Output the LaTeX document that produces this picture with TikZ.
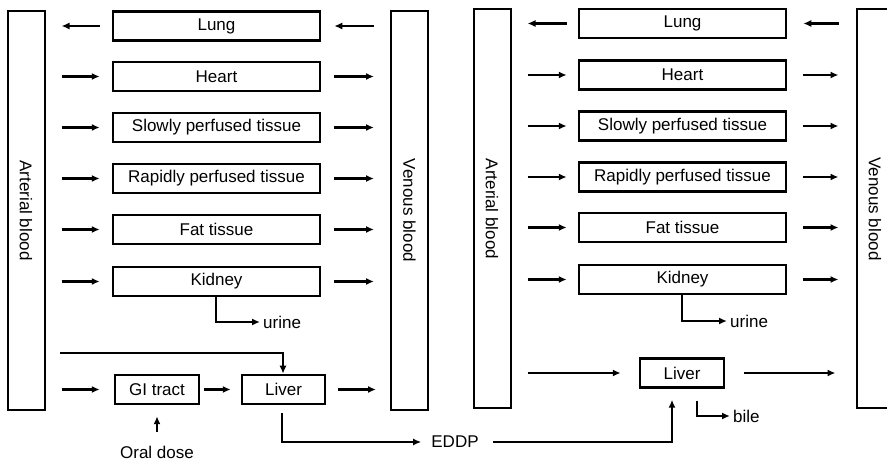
\documentclass[tikz,border=0pt]{standalone}
\usepackage{fontspec}
\setmainfont{Liberation Sans}
\usepackage{graphicx}
\usetikzlibrary{arrows.meta}
\begin{document}
\begin{tikzpicture}[x=1pt,y=-1pt,
  txt/.style={font=\fontsize{17}{20}\selectfont},
  organ/.style={draw, line width=2.5pt, minimum width=207pt, minimum height=29pt, inner sep=0pt, txt},
  blood/.style={draw, line width=2pt, minimum width=37pt, minimum height=399pt, inner sep=0pt, txt},
  lbl/.style={inner sep=0pt, txt},
  flow/.style={line width=2.4pt, -{Latex[length=8pt,width=7pt]}},
  lin/.style={shorten <=16pt, shorten >=12pt},
  rin/.style={shorten <=13pt, shorten >=16pt}]
\useasboundingbox[fill=white] (0,0) rectangle (887,462);
% ---------------- left panel ----------------
\node[blood] (art1) at (26,210.5) {\rotatebox{-90}{Arterial blood}};
\node[blood] (ven1) at (409.5,210.5) {\rotatebox{-90}{Venous blood}};
\node[organ] (lung1) at (216.5,26) {Lung};
\node[organ] (heart1) at (216.5,76.5) {Heart};
\node[organ] (slow1) at (216.5,127.5) {Slowly perfused tissue};
\node[organ] (rapid1) at (216.5,178.5) {Rapidly perfused tissue};
\node[organ] (fat1) at (216.5,229.5) {Fat tissue};
\node[organ] (kid1) at (216.5,281.5) {Kidney};
\node[organ, minimum width=84pt] (gi1) at (157,389.5) {GI tract};
\node[organ, minimum width=83pt] (liv1) at (283.5,389.5) {Liver};
\node[lbl, anchor=west] (urine1) at (263,322) {urine};
\node[lbl] (oral) at (157,452.5) {Oral dose};
\node[lbl] (eddp) at (455,442) {EDDP};
\coordinate (byp1) at (60,353);

\draw[flow, shorten <=12pt, shorten >=16pt] (lung1.west) -- (art1.east |- lung1.west);
\draw[flow, shorten <=16pt, shorten >=13pt] (ven1.west |- lung1.east) -- (lung1.east);
\foreach \o in {heart1,slow1,rapid1,fat1,kid1}{
  \draw[flow, lin] (art1.east |- \o.west) -- (\o.west);
  \draw[flow, rin] (\o.east) -- (ven1.west |- \o.east);
}
\draw[flow, shorten >=3pt] ([xshift=-0.5pt]kid1.south) |- (urine1.west);
\draw[flow] (byp1) -| ([xshift=-0.5pt]liv1.north);
\draw[flow, shorten <=16pt, shorten >=14pt] (art1.east |- gi1.west) -- (gi1.west);
\draw[flow, shorten <=4pt, shorten >=10pt] (gi1.east) -- (liv1.west);
\draw[flow, shorten <=12pt, shorten >=14pt] (liv1.east) -- (ven1.west |- liv1.east);
\draw[flow, shorten <=14pt, shorten >=11pt] (oral.north) -- (gi1.south);
\draw[flow, shorten <=8pt, shorten >=10pt] ([xshift=-1.5pt]liv1.south) |- (eddp.west);
% ---------------- right panel ----------------
\node[blood] (art2) at (492,209) {\rotatebox{-90}{Arterial blood}};
\node[blood] (ven2) at (875,209) {\rotatebox{-90}{Venous blood}};
\node[organ] (lung2) at (682.5,23.5) {Lung};
\node[organ] (heart2) at (682.5,75) {Heart};
\node[organ] (slow2) at (682.5,126) {Slowly perfused tissue};
\node[organ] (rapid2) at (682.5,177) {Rapidly perfused tissue};
\node[organ] (fat2) at (682.5,227.5) {Fat tissue};
\node[organ] (kid2) at (682.5,279.5) {Kidney};
\node[organ, minimum width=84pt] (liv2) at (682,373) {Liver};
\node[lbl, anchor=west] (urine2) at (730,321) {urine};
\node[lbl, anchor=west] (bile) at (733,416) {bile};

\draw[flow, shorten <=11pt, shorten >=16pt] (lung2.west) -- (art2.east |- lung2.west);
\draw[flow, shorten <=17pt, shorten >=16pt] (ven2.west |- lung2.east) -- (lung2.east);
\foreach \o in {heart2,slow2,rapid2,fat2,kid2}{
  \draw[flow, shorten <=16pt, shorten >=11pt] (art2.east |- \o.west) -- (\o.west);
  \draw[flow, shorten <=16pt, shorten >=17pt] (\o.east) -- (ven2.west |- \o.east);
}
\draw[flow, shorten >=3pt] ([xshift=-0.5pt]kid2.south) |- (urine2.west);
\draw[flow, shorten <=16pt, shorten >=18pt] (art2.east |- liv2.west) -- (liv2.west);
\draw[flow, shorten <=19pt, shorten >=20pt] (liv2.east) -- (ven2.west |- liv2.east);
\draw[flow, shorten <=14pt, shorten >=11pt] (eddp.east) -| ([xshift=-10pt]liv2.south);
\draw[flow, shorten <=12pt, shorten >=3pt] ([xshift=15pt]liv2.south) |- (bile.west);
\end{tikzpicture}
\end{document}
